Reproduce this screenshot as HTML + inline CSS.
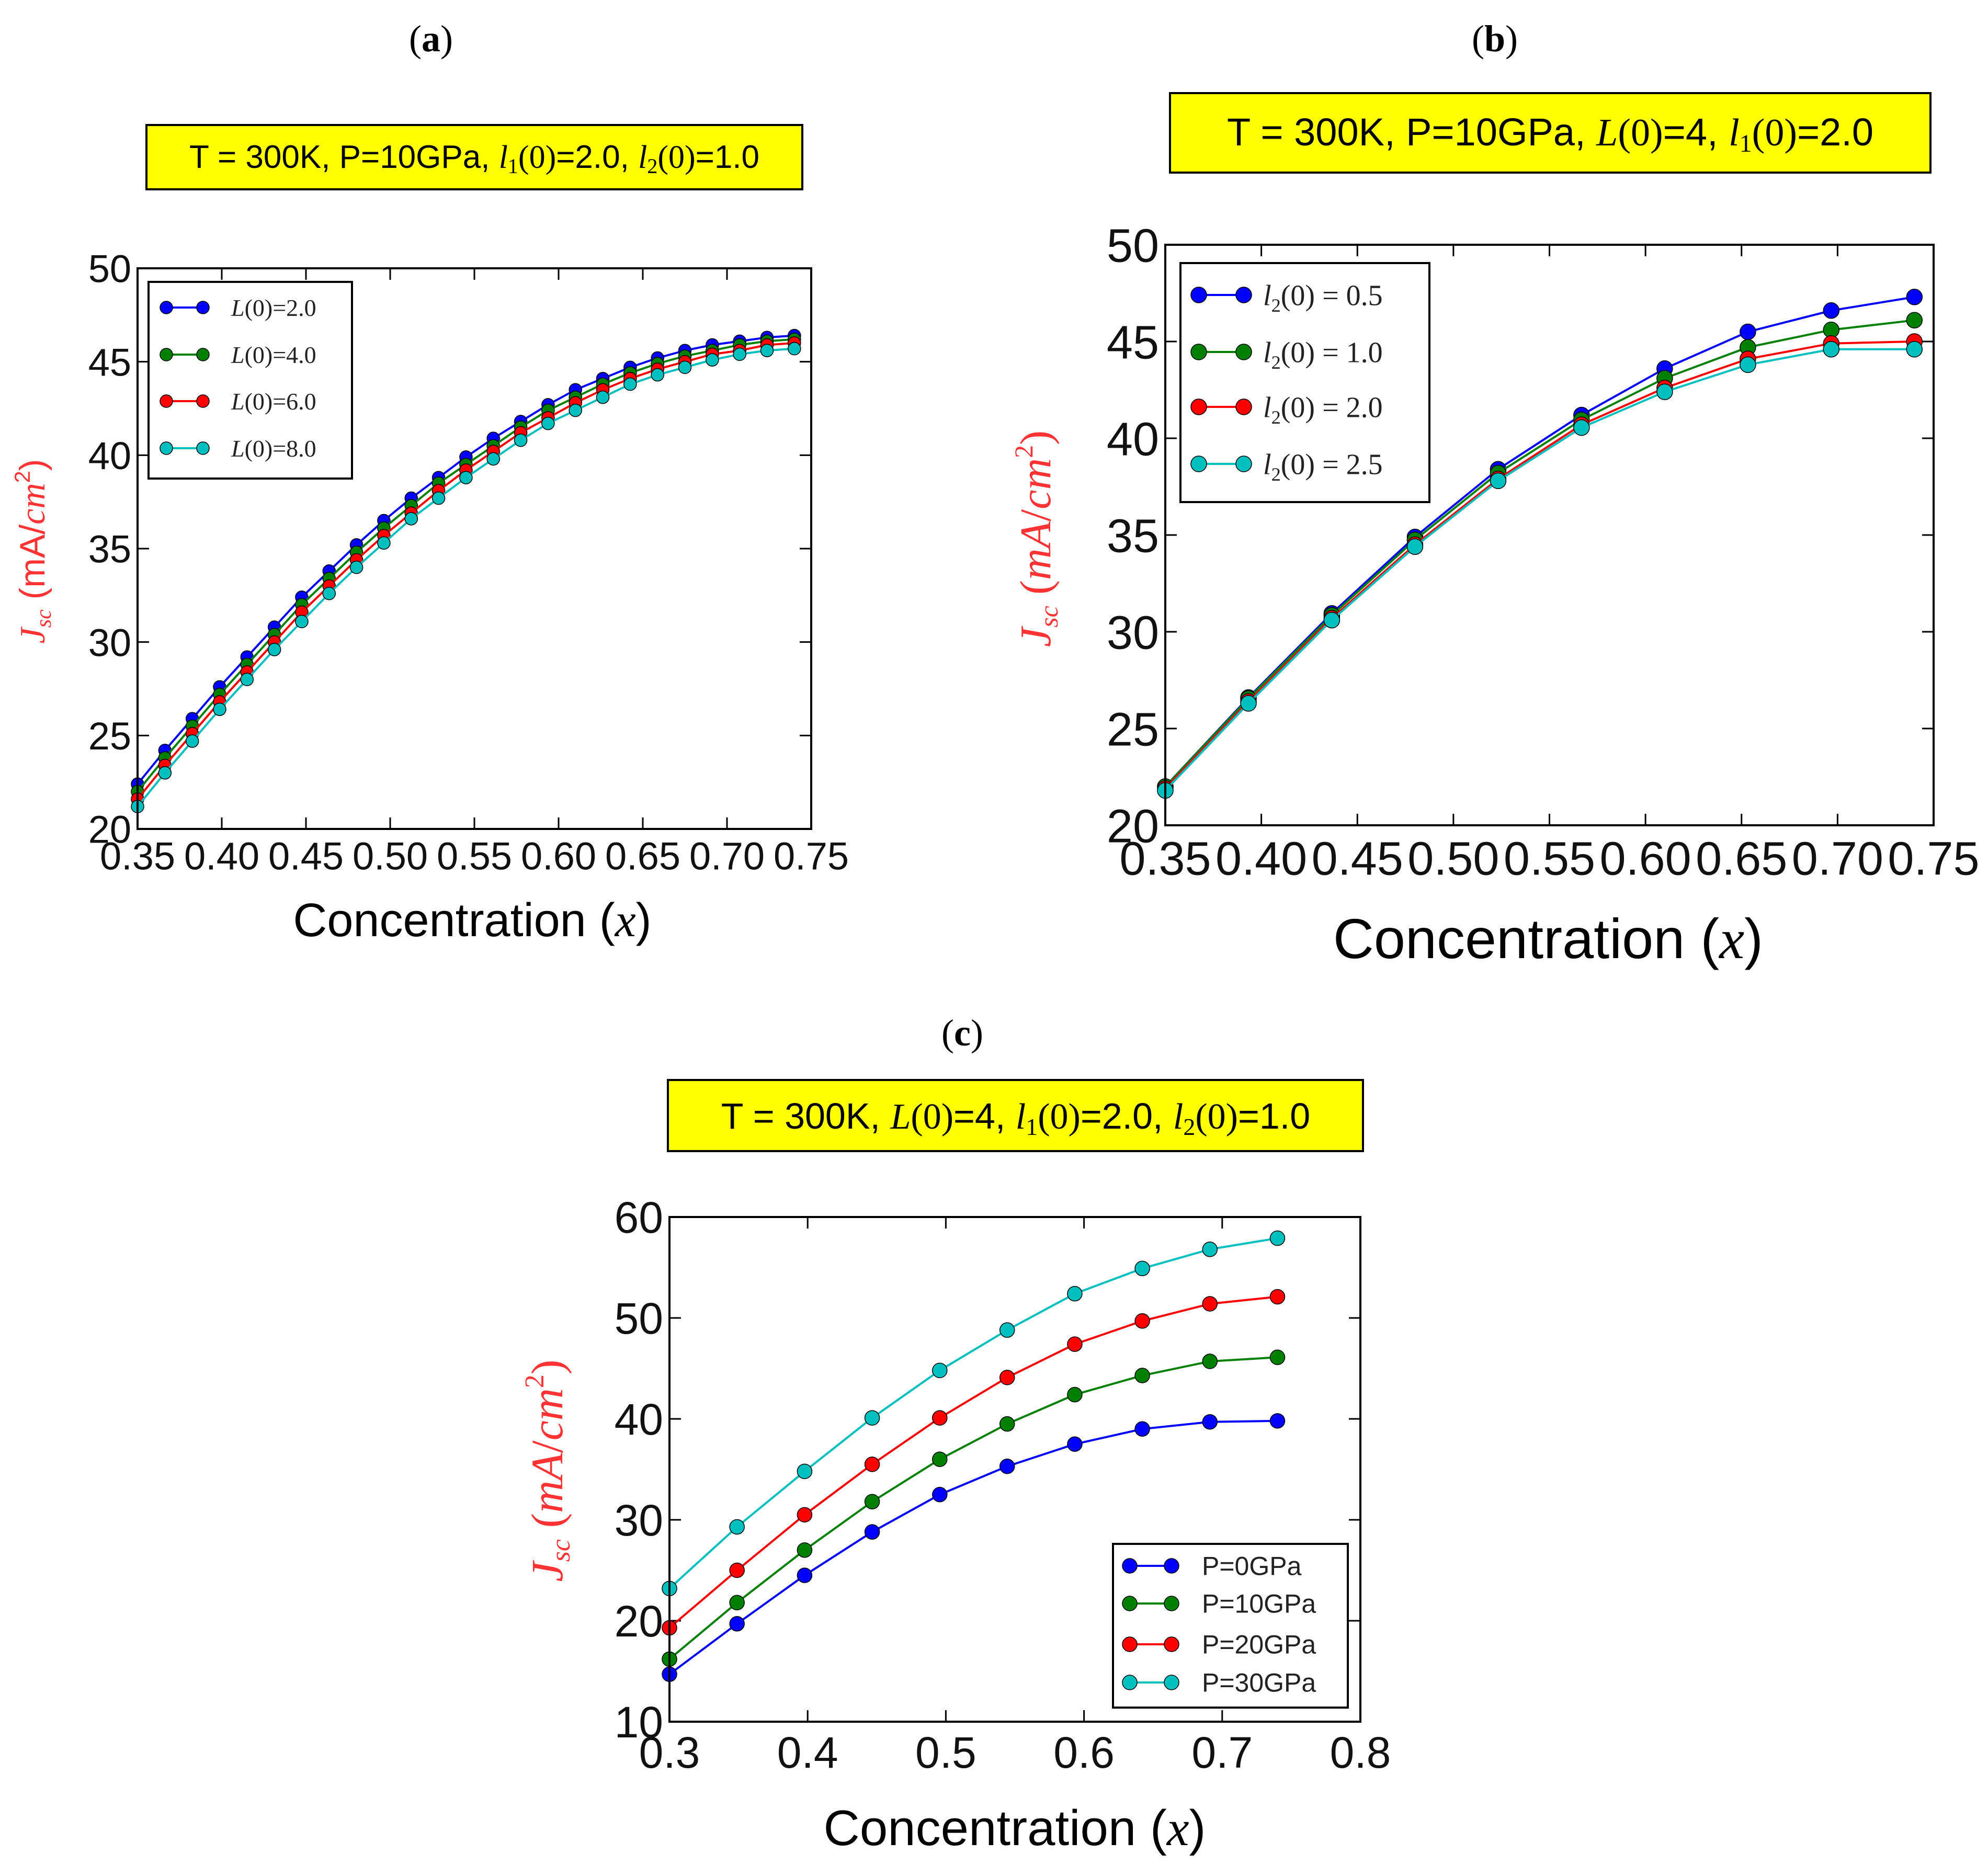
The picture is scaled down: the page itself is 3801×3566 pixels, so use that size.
<!DOCTYPE html>
<html><head><meta charset="utf-8"><style>
html,body{margin:0;padding:0;background:#fff;}
svg{display:block;}
</style></head><body>
<svg id="fig" xmlns="http://www.w3.org/2000/svg" width="3801" height="3566" viewBox="0 0 3801 3566">
<rect width="3801" height="3566" fill="#fff"/>
<text x="824" y="98" text-anchor="middle" font-family="Liberation Serif, serif" font-size="72">(<tspan font-weight="bold">a</tspan>)</text>
<text x="2858" y="98" text-anchor="middle" font-family="Liberation Serif, serif" font-size="72">(<tspan font-weight="bold">b</tspan>)</text>
<text x="1840" y="1999" text-anchor="middle" font-family="Liberation Serif, serif" font-size="72">(<tspan font-weight="bold">c</tspan>)</text>
<g>
<rect x="280" y="239" width="1254" height="123" fill="#ffff00" stroke="#000" stroke-width="4"/>
<text x="907" y="321" text-anchor="middle" font-family="Liberation Sans, sans-serif" font-size="62">T = 300K, P=10GPa, <tspan font-family="Liberation Serif, serif" font-style="italic">l</tspan><tspan font-family="Liberation Serif, serif" font-size="40" dy="10">1</tspan><tspan font-family="Liberation Serif, serif" dy="-10">(0)</tspan>=2.0, <tspan font-family="Liberation Serif, serif" font-style="italic">l</tspan><tspan font-family="Liberation Serif, serif" font-size="40" dy="10">2</tspan><tspan font-family="Liberation Serif, serif" dy="-10">(0)</tspan>=1.0</text>
</g>
<g>
<rect x="2237" y="178" width="1454" height="152" fill="#ffff00" stroke="#000" stroke-width="4"/>
<text x="2964" y="278" text-anchor="middle" font-family="Liberation Sans, sans-serif" font-size="74">T = 300K, P=10GPa, <tspan font-family="Liberation Serif, serif" font-style="italic">L</tspan><tspan font-family="Liberation Serif, serif">(0)</tspan>=4, <tspan font-family="Liberation Serif, serif" font-style="italic">l</tspan><tspan font-family="Liberation Serif, serif" font-size="48" dy="12">1</tspan><tspan font-family="Liberation Serif, serif" dy="-12">(0)</tspan>=2.0</text>
</g>
<g>
<rect x="1277" y="2065" width="1329" height="136" fill="#ffff00" stroke="#000" stroke-width="4"/>
<text x="1942" y="2158" text-anchor="middle" font-family="Liberation Sans, sans-serif" font-size="70">T = 300K, <tspan font-family="Liberation Serif, serif" font-style="italic">L</tspan><tspan font-family="Liberation Serif, serif">(0)</tspan>=4, <tspan font-family="Liberation Serif, serif" font-style="italic">l</tspan><tspan font-family="Liberation Serif, serif" font-size="46" dy="12">1</tspan><tspan font-family="Liberation Serif, serif" dy="-12">(0)</tspan>=2.0, <tspan font-family="Liberation Serif, serif" font-style="italic">l</tspan><tspan font-family="Liberation Serif, serif" font-size="46" dy="12">2</tspan><tspan font-family="Liberation Serif, serif" dy="-12">(0)</tspan>=1.0</text>
</g>
<text x="903" y="1790" text-anchor="middle" font-family="Liberation Sans, sans-serif" font-size="90">Concentration (<tspan font-family="Liberation Serif, serif" font-style="italic">x</tspan>)</text>
<text x="2960" y="1832" text-anchor="middle" font-family="Liberation Sans, sans-serif" font-size="108">Concentration (<tspan font-family="Liberation Serif, serif" font-style="italic">x</tspan>)</text>
<text x="1940" y="3528" text-anchor="middle" font-family="Liberation Sans, sans-serif" font-size="96">Concentration (<tspan font-family="Liberation Serif, serif" font-style="italic">x</tspan>)</text>
<text transform="translate(85,1054) rotate(-90)" text-anchor="middle" fill="#ff3333" font-family="Liberation Sans, sans-serif" font-size="68"><tspan font-family="Liberation Serif, serif" font-style="italic">J</tspan><tspan font-family="Liberation Serif, serif" font-style="italic" font-size="42" dy="12">sc</tspan><tspan dy="-12">  (mA/</tspan><tspan font-family="Liberation Serif, serif" font-style="italic">cm</tspan><tspan font-size="42" dy="-28">2</tspan><tspan dy="28">)</tspan></text>
<text transform="translate(2008,1030) rotate(-90)" text-anchor="middle" fill="#ff3333" font-family="Liberation Serif, serif" font-size="84"><tspan font-style="italic">J</tspan><tspan font-style="italic" font-size="50" dy="14">sc</tspan><tspan dy="-14">  (</tspan><tspan font-style="italic">mA</tspan>/<tspan font-style="italic">cm</tspan><tspan font-size="50" dy="-34">2</tspan><tspan dy="34">)</tspan></text>
<text transform="translate(1075,2812) rotate(-90)" text-anchor="middle" fill="#ff3333" font-family="Liberation Serif, serif" font-size="86"><tspan font-style="italic">J</tspan><tspan font-style="italic" font-size="52" dy="14">sc</tspan><tspan dy="-14">  (</tspan><tspan font-style="italic">mA</tspan>/<tspan font-style="italic">cm</tspan><tspan font-size="52" dy="-36">2</tspan><tspan dy="36">)</tspan></text>
<g id="plots"></g>
</svg>
<script>
// ---------- Panel (a) data ----------
const aX = [0.35,0.36625,0.3825,0.39875,0.415,0.43125,0.4475,0.46375,0.48,0.49625,0.5125,0.52875,0.545,0.56125,0.5775,0.59375,0.61,0.62625,0.6425,0.65875,0.675,0.69125,0.7075,0.72375,0.74];
const aL2 = [22.4,24.2,25.9,27.6,29.2,30.8,32.4,33.8,35.2,36.5,37.7,38.8,39.9,40.9,41.8,42.7,43.5,44.1,44.7,45.2,45.6,45.9,46.1,46.3,46.4];
const aL4 = [22.0,23.8,25.5,27.2,28.8,30.4,32.0,33.4,34.8,36.1,37.3,38.5,39.5,40.5,41.5,42.4,43.1,43.8,44.4,44.9,45.3,45.6,45.9,46.1,46.2];
const aL6 = [21.6,23.4,25.1,26.8,28.4,30.0,31.6,33.0,34.4,35.7,36.9,38.1,39.2,40.2,41.2,42.0,42.8,43.5,44.1,44.6,45.0,45.4,45.6,45.9,46.0];
const aL8 = [21.2,23.0,24.7,26.4,28.0,29.6,31.1,32.6,34.0,35.3,36.6,37.7,38.8,39.8,40.8,41.7,42.4,43.1,43.8,44.3,44.7,45.1,45.4,45.6,45.7];
const aLabels = ["L(0)=2.0","L(0)=4.0","L(0)=6.0","L(0)=8.0"];
const aXTicks = [0.35,0.40,0.45,0.50,0.55,0.60,0.65,0.70,0.75];
const aXTickLabels = ["0.35","0.40","0.45","0.50","0.55","0.60","0.65","0.70","0.75"];
const aYTicks = [20,25,30,35,40,45,50];
// ---------- Panel (b) data ----------
const bX = [0.35,0.3933,0.4367,0.48,0.5233,0.5667,0.61,0.6533,0.6967,0.74];
const bL05 = [22.0,26.6,30.95,34.9,38.4,41.2,43.6,45.5,46.6,47.3];
const bL10 = [22.0,26.55,30.85,34.75,38.2,40.95,43.1,44.7,45.6,46.1];
const bL20 = [21.9,26.4,30.7,34.5,37.9,40.7,42.6,44.1,44.9,45.0];
const bL25 = [21.8,26.3,30.6,34.4,37.8,40.55,42.4,43.8,44.6,44.6];
const bLabels = ["l2(0) =  0.5","l2(0) =  1.0","l2(0) = 2.0","l2(0) = 2.5"];
const bXTicks = [0.35,0.40,0.45,0.50,0.55,0.60,0.65,0.70,0.75];
const bXTickLabels = ["0.35","0.40","0.45","0.50","0.55","0.60","0.65","0.70","0.75"];
const bYTicks = [20,25,30,35,40,45,50];
// ---------- Panel (c) data ----------
const cX = [0.30,0.3489,0.3978,0.4467,0.4956,0.5444,0.5933,0.6422,0.6911,0.74];
const cP0 = [14.7,19.7,24.5,28.8,32.5,35.3,37.5,39.0,39.7,39.8];
const cP10 = [16.2,21.8,27.0,31.8,36.0,39.5,42.4,44.3,45.7,46.1];
const cP20 = [19.3,25.0,30.5,35.5,40.1,44.1,47.4,49.7,51.4,52.1];
const cP30 = [23.2,29.3,34.8,40.1,44.8,48.8,52.4,54.9,56.8,57.9];
const cLabels = ["P=0GPa","P=10GPa","P=20GPa","P=30GPa"];
const cXTicks = [0.3,0.4,0.5,0.6,0.7,0.8];
const cXTickLabels = ["0.3","0.4","0.5","0.6","0.7","0.8"];
const cYTicks = [10,20,30,40,50,60];

const COLORS = ["#0000ff","#008000","#ff0000","#00bfbf"];
const NS = "http://www.w3.org/2000/svg";
const root = document.getElementById("plots");
function mk(tag, attrs, parent){
  const e = document.createElementNS(NS, tag);
  for (const k in attrs) e.setAttribute(k, attrs[k]);
  (parent||root).appendChild(e);
  return e;
}
function panel(id, g, xs, series, labels, xTicks, xTickLabels, yTicks){
  const grp = mk("g", {});
  
  
  const sx = v => g.L + (v - g.x0) / (g.x1 - g.x0) * (g.R - g.L);
  const sy = v => g.B - (v - g.y0) / (g.y1 - g.y0) * (g.B - g.T);
  xTicks.forEach((t, i) => {
    const x = sx(t);
    mk("line", {x1:x, y1:g.B, x2:x, y2:g.B-22, stroke:"#000","stroke-width":3}, grp);
    mk("line", {x1:x, y1:g.T, x2:x, y2:g.T+22, stroke:"#000","stroke-width":3}, grp);
    const tl = mk("text", {x:x, y:g.B + g.fs*1.05, "text-anchor":"middle", "font-family":"Liberation Sans, sans-serif", "font-size":g.fs, fill:"#111"}, grp);
    tl.textContent = xTickLabels[i];
    
    
  });
  yTicks.forEach(t => {
    const y = sy(t);
    mk("line", {x1:g.L, y1:y, x2:g.L+22, y2:y, stroke:"#000","stroke-width":3}, grp);
    mk("line", {x1:g.R, y1:y, x2:g.R-22, y2:y, stroke:"#000","stroke-width":3}, grp);
    const tl = mk("text", {x:g.L - 12, y:y + g.fs*0.36, "text-anchor":"end", "font-family":"Liberation Sans, sans-serif", "font-size":g.fs, fill:"#111"}, grp);
    tl.textContent = String(t);
    
    
  });
  series.forEach((vals, si) => {
    const sg = mk("g", {}, grp);
    
    
    const pts = vals.map((v, i) => sx(xs[i]) + "," + sy(v)).join(" ");
    const pl = mk("polyline", {points:pts, fill:"none", stroke:COLORS[si], "stroke-width":g.lw}, sg);
    
    
    vals.forEach((v, i) => {
      const c = mk("circle", {cx:sx(xs[i]), cy:sy(v), r:g.mr, fill:COLORS[si], stroke:"#000", "stroke-width":1.5}, sg);
      
      
    });
  });
  mk("rect", {x:g.L, y:g.T, width:g.R-g.L, height:g.B-g.T, fill:"none", stroke:"#000", "stroke-width":4}, grp);
  const lg = mk("g", {}, grp);
  
  
  mk("rect", {x:g.lx, y:g.ly, width:g.lw2, height:g.lh, fill:"#fff", stroke:"#000", "stroke-width":4}, lg);
  labels.forEach((lab, i) => {
    const y = g.ey[i];
    const eg = mk("g", {}, lg);
    
    
    mk("line", {x1:g.ex1, y1:y, x2:g.ex2, y2:y, stroke:COLORS[i], "stroke-width":g.lw}, eg);
    mk("circle", {cx:g.ex1, cy:y, r:g.mr, fill:COLORS[i], stroke:"#000","stroke-width":1.5}, eg);
    mk("circle", {cx:g.ex2, cy:y, r:g.mr, fill:COLORS[i], stroke:"#000","stroke-width":1.5}, eg);
    const t = mk("text", {x:g.tx, y:y + g.lfs*0.35, "font-family":g.lfont, "font-size":g.lfs, fill:"#222"}, eg);
    const m = /^([lL])(\d?)(.*)$/.exec(lab);
    if (g.math && m) {
      const a = mk("tspan", {"font-style":"italic"}, t); a.textContent = m[1];
      if (m[2]) {
        const b = mk("tspan", {"font-size":g.lfs*0.65, dy:g.lfs*0.22}, t); b.textContent = m[2];
        const c = mk("tspan", {dy:-g.lfs*0.22}, t); c.textContent = m[3];
      } else {
        const c = mk("tspan", {}, t); c.textContent = m[3];
      }
    } else {
      t.textContent = lab;
    }
  });
}
panel("panel-a", {L:263,R:1551,T:513,B:1585,x0:0.35,x1:0.75,y0:20,y1:50,fs:74,lw:4,mr:12,
  lx:284,ly:539,lw2:389,lh:376,ey:[588,678,767,857],ex1:318,ex2:388,tx:442,lfs:46,lfont:"Liberation Serif, serif",math:true},
  aX,[aL2,aL4,aL6,aL8],aLabels,aXTicks,aXTickLabels,aYTicks);
panel("panel-b", {L:2228,R:3697,T:468,B:1578,x0:0.35,x1:0.75,y0:20,y1:50,fs:90,lw:4,mr:15,
  lx:2257,ly:503,lw2:476,lh:457,ey:[564,673,778,887],ex1:2292,ex2:2378,tx:2415,lfs:56,lfont:"Liberation Serif, serif",math:true},
  bX,[bL05,bL10,bL20,bL25],bLabels,bXTicks,bXTickLabels,bYTicks);
panel("panel-c", {L:1280,R:2601,T:2327,B:3292,x0:0.3,x1:0.8,y0:10,y1:60,fs:84,lw:4,mr:14,
  lx:2128,ly:2952,lw2:449,lh:313,ey:[2994,3066,3144,3217],ex1:2160,ex2:2240,tx:2298,lfs:50,lfont:"Liberation Sans, sans-serif",math:false},
  cX,[cP0,cP10,cP20,cP30],cLabels,cXTicks,cXTickLabels,cYTicks);
</script>
</body></html>
